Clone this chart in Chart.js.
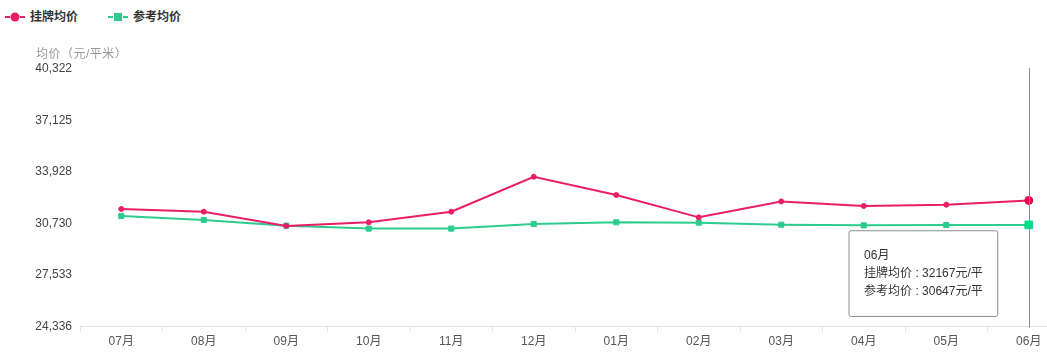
<!DOCTYPE html>
<html>
<head>
<meta charset="utf-8">
<script src="https://cdn.jsdelivr.net/npm/chart.js@4"></script>
<style>
  html, body { margin: 0; padding: 0; }
  body { width: 1047px; height: 360px; overflow: hidden; position: relative; background: #fff;
         font-family: "Liberation Sans", "Noto Sans CJK SC", sans-serif; }
  #legend { position: absolute; left: 5px; top: 9px; height: 16px; font-size: 12px; font-weight: bold; color: #333; }
  .item { position: absolute; top: 0; white-space: nowrap; line-height: 16px; }
  .icon { position: absolute; top: 3px; left: 0; width: 20px; height: 10px; }
  .item span { position: absolute; left: 25px; top: 0; }
  #ytitle { position: absolute; left: 36px; top: 44px; font-size: 12px; color: #999; white-space: nowrap; letter-spacing: 0.5px; }
  #myChart { position: absolute; left: 0; top: 0; }
</style>
</head>
<body>
<div id="legend"></div>
<div id="ytitle">均价（元/平米）</div>
<canvas id="myChart" width="1070" height="360"></canvas>
<script>
const months = ['07月', '08月', '09月', '10月', '11月', '12月', '01月', '02月', '03月', '04月', '05月', '06月'];
const listingPrice = [31635, 31468, 30584, 30807, 31468, 33633, 32501, 31116, 32105, 31821, 31901, 32167];
const referencePrice = [31202, 30955, 30602, 30417, 30417, 30708, 30807, 30788, 30660, 30620, 30640, 30647];
const seriesNames = ['挂牌均价', '参考均价'];
const seriesColors = ['#ea1f63', '#2ecb8e'];
const yMin = 24336;
const yMax = 40322;

const FONT = '"Liberation Sans", "Noto Sans CJK SC", sans-serif';

// legend drawn in html, same look as the original
function makeIcon(color, square) {
    const c = document.createElement('canvas');
    c.width = 20; c.height = 10;
    c.className = 'icon';
    const ctx = c.getContext('2d');
    ctx.fillStyle = color;
    ctx.fillRect(0, 4, 5, 2);
    ctx.fillRect(15, 4, 5, 2);
    if (square) {
        ctx.fillRect(6, 1, 8, 8);
    } else {
        ctx.beginPath();
        ctx.arc(10, 5, 4.5, 0, Math.PI * 2);
        ctx.fill();
    }
    return c;
}
const legend = document.getElementById('legend');
[0, 103].forEach((left, i) => {
    const item = document.createElement('div');
    item.className = 'item';
    item.style.left = left + 'px';
    item.appendChild(makeIcon(seriesColors[i], i === 1));
    const s = document.createElement('span');
    s.textContent = seriesNames[i];
    item.appendChild(s);
    legend.appendChild(item);
});

const crosshair = {
    id: 'crosshair',
    afterDatasetsDraw(chart) {
        const active = chart.tooltip.getActiveElements();
        if (!active.length) return;
        const x = active[0].element.x;
        const ctx = chart.ctx;
        ctx.save();
        ctx.strokeStyle = '#8c8c8c';
        ctx.lineWidth = 1;
        ctx.beginPath();
        ctx.moveTo(Math.round(x) + 0.5, chart.chartArea.top - 1);
        ctx.lineTo(Math.round(x) + 0.5, chart.chartArea.bottom + 1);
        ctx.stroke();
        ctx.restore();
    }
};

Chart.Tooltip.positioners.lowLeft = function(items) {
    if (!items.length) return false;
    return { x: items[0].element.x, y: this.chart.chartArea.bottom - 53 };
};

const data = {
    labels: months,
    datasets: [{
        label: seriesNames[0],
        data: listingPrice,
        borderColor: seriesColors[0],
        backgroundColor: seriesColors[0],
        borderWidth: 2,
        pointStyle: 'circle',
        pointRadius: 2.5,
        pointBorderWidth: 1,
        pointHoverRadius: 4,
        pointHoverBorderWidth: 1,
        tension: 0
    }, {
        label: seriesNames[1],
        data: referencePrice,
        borderColor: seriesColors[1],
        backgroundColor: seriesColors[1],
        borderWidth: 2,
        pointStyle: 'rect',
        pointRadius: 3.6,
        pointBorderWidth: 1,
        pointHoverRadius: 5.4,
        pointHoverBorderWidth: 1,
        tension: 0
    }]
};

const config = {
    type: 'line',
    data: data,
    options: {
        responsive: false,
        animation: false,
        layout: { autoPadding: false, padding: { top: 69, left: 0, right: 0, bottom: 8 } },
        interaction: { mode: 'index', intersect: false },
        plugins: {
            legend: { display: false },
            title: { display: false },
            tooltip: {
                position: 'lowLeft',
                xAlign: 'right',
                yAlign: 'center',
                caretSize: 0,
                caretPadding: 31,
                backgroundColor: 'rgba(255,255,255,0.95)',
                borderColor: '#8c8c8c',
                borderWidth: 1,
                cornerRadius: 2,
                displayColors: false,
                titleColor: '#333',
                bodyColor: '#333',
                titleFont: { family: FONT, size: 12, weight: 'normal' },
                bodyFont: { family: FONT, size: 12 },
                titleMarginBottom: 3,
                bodySpacing: 3.5,
                padding: { left: 15, right: 15, top: 18, bottom: 18 },
                callbacks: {
                    label: (ctx) => ctx.dataset.label + ' : ' + ctx.parsed.y + '元/平'
                }
            }
        },
        scales: {
            x: {
                offset: true,
                border: { color: '#e3e3e3', width: 1 },
                grid: { drawOnChartArea: false, color: '#e3e3e3', tickLength: 5, offset: true },
                ticks: { color: '#555', padding: 3, font: { family: FONT, size: 12 }, autoSkip: false, maxRotation: 0 }
            },
            y: {
                min: yMin,
                max: yMax,
                afterBuildTicks: (scale) => {
                    const step = (yMax - yMin) / 5;
                    scale.ticks = [0, 1, 2, 3, 4, 5].map(i => ({ value: yMin + step * i }));
                },
                afterFit: (scale) => { scale.width = 80; },
                border: { display: false },
                grid: { display: false, drawTicks: false },
                ticks: {
                    color: '#444',
                    padding: 8,
                    font: { family: FONT, size: 12 },
                    callback: (v) => Math.round(v).toLocaleString('en-US')
                }
            }
        }
    },
    plugins: [crosshair]
};

const myChart = new Chart(document.getElementById('myChart'), config);

const last = months.length - 1;
myChart.setActiveElements([{ datasetIndex: 0, index: last }, { datasetIndex: 1, index: last }]);
myChart.tooltip.setActiveElements(
    [{ datasetIndex: 0, index: last }, { datasetIndex: 1, index: last }],
    { x: 0, y: 0 }
);
myChart.update();
</script>
</body>
</html>
